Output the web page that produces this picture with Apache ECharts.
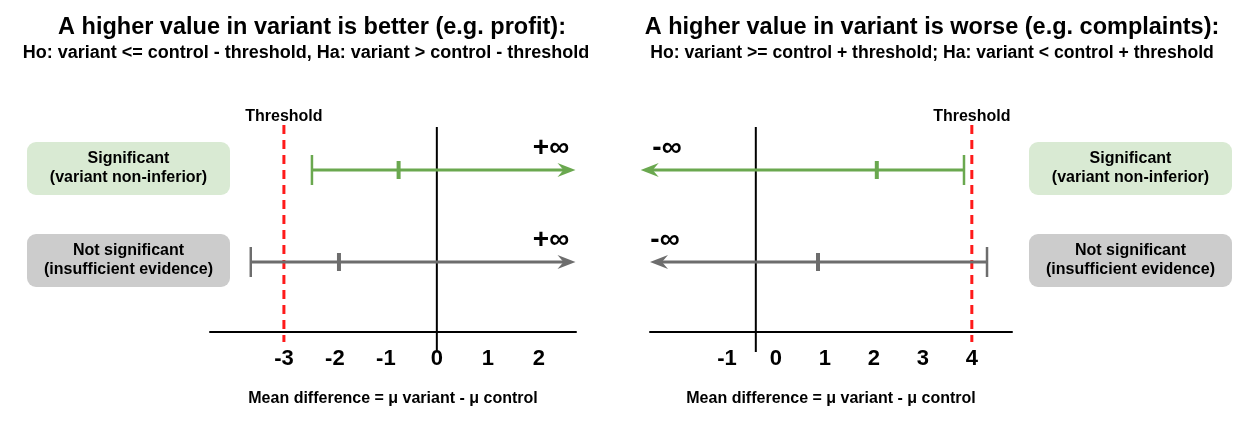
<!DOCTYPE html>
<html>
<head>
<meta charset="utf-8">
<script src="https://cdn.jsdelivr.net/npm/echarts@6/dist/echarts.min.js"></script>
<style>html,body{margin:0;padding:0;background:#fff}#c{width:1248px;height:422px}</style>
</head>
<body>
<div id="c"></div>
<script>
// ---------------- data ----------------
const titles = ['A higher value in variant is better (e.g. profit):', 'A higher value in variant is worse (e.g. complaints):'];
const subtitles = ['Ho: variant <= control - threshold, Ha: variant > control - threshold', 'Ho: variant >= control + threshold; Ha: variant < control + threshold'];
const rowLabels = ['Significant\n(variant non-inferior)', 'Not significant\n(insufficient evidence)'];
const axisTitle = 'Mean difference = \u03bc variant - \u03bc control';
const thresholdLabel = 'Threshold';

const leftTicks = [-3, -2, -1, 0, 1, 2];
const rightTicks = [-1, 0, 1, 2, 3, 4];
const leftRange = [-4.45, 2.73];
const rightRange = [-2.57, 4.82];

const leftThreshold = -3;
const rightThreshold = 4;
const leftZeroLine = 0;
const rightZeroLine = -0.41;

// left panel: bounded below, open to +infinity
const leftLower = [-2.45, -3.65];
const leftEstimate = [-0.75, -1.92];
const leftArrowEnd = [2.72, 2.72];
// right panel: bounded above, open to -infinity
const rightUpper = [3.84, 4.31];
const rightEstimate = [2.06, 0.86];
const rightArrowEnd = [-2.76, -2.57];

// ---------------- styling / layout ----------------
const FONT = '"Liberation Sans", Arial, sans-serif';
const rowColors = ['#6aa84f', '#6d6d6d'];
const boxColors = ['#d9ead3', '#cccccc'];
const ROW_Y = [162, 70];          // y-axis units (grid is 1px per unit)
const chart = echarts.init(document.getElementById('c'));

function intervalRender(dir, infText) {
  return function (params, api) {
    const row = api.value(3);
    const yv = ROW_Y[row];
    const color = rowColors[row];
    const cap = api.coord([api.value(0), yv]);
    const est = api.coord([api.value(1), yv]);
    const tip = api.coord([api.value(2), yv]);
    const y = cap[1];
    const tx = tip[0];
    const cs = params.coordSys;
    const infX = dir > 0 ? cs.x + cs.width - 25 : cs.x + 16 + (row === 0 ? 1 : -1);
    return {
      type: 'group',
      children: [
        {type: 'line', shape: {x1: cap[0], y1: y, x2: tx - dir * 10, y2: y}, style: {stroke: color, lineWidth: 3}},
        {type: 'line', shape: {x1: cap[0], y1: y - 15, x2: cap[0], y2: y + 15}, style: {stroke: color, lineWidth: 2.5}},
        {type: 'line', shape: {x1: est[0], y1: y - 9, x2: est[0], y2: y + 9}, style: {stroke: color, lineWidth: 4}},
        {type: 'polygon', shape: {points: [[tx, y], [tx - dir * 18, y - 7], [tx - dir * 12, y], [tx - dir * 18, y + 7]]}, style: {fill: color}},
        {type: 'text', x: infX, y: y - 22,
          style: {text: infText, fill: '#000', fontSize: 28, fontWeight: 'bold', fontFamily: FONT, align: 'center', verticalAlign: 'middle'}}
      ]
    };
  };
}

function refRender(params, api) {
  const kind = api.value(1);
  const x = api.coord([api.value(0), 0])[0];
  const toPix = v => api.coord([api.value(0), v])[1];
  if (kind === 0) {
    return {type: 'line', shape: {x1: x, y1: toPix(205), x2: x, y2: toPix(-20)}, style: {stroke: '#000', lineWidth: 2}};
  }
  return {
    type: 'group',
    children: [
      {type: 'line', shape: {x1: x, y1: toPix(207), x2: x, y2: toPix(-10)}, style: {stroke: '#ff1a1a', lineWidth: 3, lineDash: [9, 6]}},
      {type: 'text', x: x, y: toPix(215),
        style: {text: thresholdLabel, fill: '#000', fontSize: 16, fontWeight: 'bold', fontFamily: FONT, align: 'center', verticalAlign: 'middle'}}
    ]
  };
}

function xAxisCfg(idx, range, ticks) {
  return {
    gridIndex: idx, type: 'value', min: range[0], max: range[1],
    axisLine: {show: true, onZero: false, lineStyle: {color: '#000', width: 2}},
    axisTick: {show: false}, splitLine: {show: false},
    axisLabel: {customValues: ticks, color: '#000', fontSize: 22, fontWeight: 'bold', fontFamily: FONT, margin: 16},
    name: axisTitle, nameLocation: 'middle', nameGap: 59,
    nameTextStyle: {color: '#000', fontSize: 16, fontWeight: 'bold', fontFamily: FONT}
  };
}

const graphics = [];
const titleX = [312, 932];
const subtitleX = [306, 932];
const subtitleSize = [18, 17.6];
titles.forEach((t, i) => {
  graphics.push({type: 'text', x: titleX[i], y: 28, style: {text: t, fill: '#000', fontSize: 23.5, fontWeight: 'bold', fontFamily: FONT, align: 'center', verticalAlign: 'middle'}});
  graphics.push({type: 'text', x: subtitleX[i], y: 53, style: {text: subtitles[i], fill: '#000', fontSize: subtitleSize[i], fontWeight: 'bold', fontFamily: FONT, align: 'center', verticalAlign: 'middle'}});
});
const boxLeft = [27, 1029];
const boxTop = [142, 234];
boxLeft.forEach(bx => {
  rowLabels.forEach((lab, r) => {
    graphics.push({type: 'rect', shape: {x: bx, y: boxTop[r], width: 203, height: 53, r: 9}, style: {fill: boxColors[r]}});
    graphics.push({type: 'text', x: bx + 101.5, y: boxTop[r] + 26.5,
      style: {text: lab, fill: '#000', fontSize: 16, fontWeight: 'bold', fontFamily: FONT, align: 'center', verticalAlign: 'middle', lineHeight: 19}});
  });
});

chart.setOption({
  animation: false,
  backgroundColor: '#fff',
  grid: [
    {left: 210, width: 366, top: 122, height: 210},
    {left: 650, width: 362, top: 122, height: 210}
  ],
  xAxis: [xAxisCfg(0, leftRange, leftTicks), xAxisCfg(1, rightRange, rightTicks)],
  yAxis: [
    {gridIndex: 0, type: 'value', min: 0, max: 210, show: false},
    {gridIndex: 1, type: 'value', min: 0, max: 210, show: false}
  ],
  graphic: graphics,
  series: [
    {type: 'custom', xAxisIndex: 0, yAxisIndex: 0, clip: false, renderItem: refRender,
      data: [[leftZeroLine, 0], [leftThreshold, 1]]},
    {type: 'custom', xAxisIndex: 1, yAxisIndex: 1, clip: false, renderItem: refRender,
      data: [[rightZeroLine, 0], [rightThreshold, 1]]},
    {type: 'custom', xAxisIndex: 0, yAxisIndex: 0, clip: false, renderItem: intervalRender(1, '+\u221e'),
      data: leftLower.map((v, i) => [v, leftEstimate[i], leftArrowEnd[i], i])},
    {type: 'custom', xAxisIndex: 1, yAxisIndex: 1, clip: false, renderItem: intervalRender(-1, '-\u221e'),
      data: rightUpper.map((v, i) => [v, rightEstimate[i], rightArrowEnd[i], i])}
  ]
});
</script>
</body>
</html>
